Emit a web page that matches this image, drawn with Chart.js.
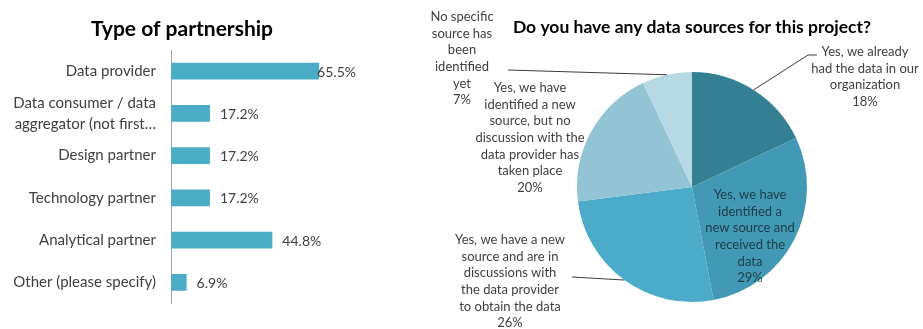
<!DOCTYPE html>
<html>
<head>
<meta charset="utf-8">
<script src="https://cdn.jsdelivr.net/npm/chart.js@4/dist/chart.umd.min.js"></script>
<style>
  html, body { margin: 0; padding: 0; background: #ffffff; }
  #wrap { position: relative; width: 923px; height: 329px; overflow: hidden; }
  #partnerCanvas { position: absolute; left: 0; top: 0; }
  #sourceCanvas { position: absolute; left: 400px; top: 0; }
</style>
</head>
<body>
<div id="wrap">
  <canvas id="partnerCanvas" width="365" height="329"></canvas>
  <canvas id="sourceCanvas" width="523" height="329"></canvas>
</div>
<script>
// ---- data ----
const partnerTypes = [
  'Data provider',
  ['Data consumer / data', 'aggregator (not first…'],
  'Design partner',
  'Technology partner',
  'Analytical partner',
  'Other (please specify)'
];
const partnerShares = [65.5, 17.2, 17.2, 17.2, 44.8, 6.9];

const sourceAnswers = [
  ['Yes, we already', 'had the data in our', 'organization'],
  ['Yes, we have', 'identified a', 'new source and', 'received the', 'data'],
  ['Yes, we have a new', 'source and are in', 'discussions with', 'the data provider', 'to obtain the data'],
  ['Yes, we have', 'identified a new', 'source, but no', 'discussion with the', 'data provider has', 'taken place'],
  ['No specific', 'source has', 'been', 'identified', 'yet']
];
const sourceShares = [18, 29, 26, 20, 7];

const FONT = 'Lato, "Open Sans", sans-serif';
const TEXT_GREY = '#404040';

// ---- shared: bold title text ----
const titlePlugin = {
  id: 'titleText',
  afterDraw(chart, args, opts) {
    const ctx = chart.ctx;
    ctx.save();
    ctx.font = 'bold ' + opts.size + 'px ' + FONT;
    ctx.fillStyle = '#000000';
    ctx.textAlign = 'center';
    ctx.textBaseline = 'middle';
    ctx.fillText(opts.text, opts.x, opts.y);
    ctx.restore();
  }
};

// ---- left: horizontal bar chart ----
const barValueLabels = {
  id: 'barValueLabels',
  afterDatasetsDraw(chart) {
    const ctx = chart.ctx;
    const meta = chart.getDatasetMeta(0);
    const area = chart.chartArea;
    ctx.save();
    ctx.font = '14px ' + FONT;
    ctx.fillStyle = TEXT_GREY;
    ctx.textBaseline = 'middle';
    ctx.textAlign = 'left';
    meta.data.forEach((bar, i) => {
      const txt = partnerShares[i].toFixed(1) + '%';
      const w = ctx.measureText(txt).width;
      let x = bar.x + 10;
      // keep the label inside the plot area
      if (x + w > area.right + 4) x = area.right + 4 - w;
      ctx.fillText(txt, x, bar.y + 1);
    });
    ctx.restore();
  }
};

new Chart(document.getElementById('partnerCanvas'), {
  type: 'bar',
  data: {
    labels: partnerTypes,
    datasets: [{
      data: partnerShares,
      backgroundColor: '#4bacc6',
      borderWidth: 0,
      categoryPercentage: 0.5,
      barPercentage: 0.79
    }]
  },
  options: {
    indexAxis: 'y',
    responsive: false,
    animation: false,
    layout: { padding: { top: 50, right: 13, bottom: 19, left: 0 } },
    plugins: {
      legend: { display: false },
      tooltip: { enabled: false },
      titleText: { text: 'Type of partnership', x: 182, y: 29, size: 21 }
    },
    scales: {
      x: { display: false, min: 0, max: 80 },
      y: {
        grid: { display: false, drawTicks: false },
        border: { display: true, color: '#a6a6a6', width: 1 },
        ticks: {
          autoSkip: false,
          color: TEXT_GREY,
          padding: 15,
          font: { family: FONT, size: 15, lineHeight: 1.4 }
        },
        afterFit(scale) { scale.width = 171; }
      }
    }
  },
  plugins: [titlePlugin, barValueLabels]
});

// ---- right: pie chart ----
// label placement, relative to the pie centre; leader points run from the label towards the slice
const pieLabelLayout = [
  { dx: 173, dy: -135, color: TEXT_GREY, leader: [[125, -132], [116, -132]] },
  { dx: 58,  dy: 8,    color: '#1d3c48', leader: null },
  { dx: -182, dy: 53,  color: TEXT_GREY, leader: [[-120, 90]] },
  { dx: -162, dy: -99, color: TEXT_GREY, leader: null },
  { dx: -230, dy: -170, color: TEXT_GREY, leader: [[-184, -117]] }
];

const pieLabels = {
  id: 'pieLabels',
  afterDatasetsDraw(chart) {
    const ctx = chart.ctx;
    const meta = chart.getDatasetMeta(0);
    const lh = 16.6;
    ctx.save();
    meta.data.forEach((arc, i) => {
      const lay = pieLabelLayout[i];
      const cx = arc.x, cy = arc.y;
      if (lay.leader) {
        const mid = (arc.startAngle + arc.endAngle) / 2;
        const ex = cx + Math.cos(mid) * arc.outerRadius;
        const ey = cy + Math.sin(mid) * arc.outerRadius;
        ctx.beginPath();
        ctx.strokeStyle = '#3a3a3a';
        ctx.lineWidth = 1;
        ctx.moveTo(cx + lay.leader[0][0], cy + lay.leader[0][1]);
        for (let k = 1; k < lay.leader.length; k++) ctx.lineTo(cx + lay.leader[k][0], cy + lay.leader[k][1]);
        ctx.lineTo(ex, ey);
        ctx.stroke();
      }
      const lines = sourceAnswers[i].concat([sourceShares[i] + '%']);
      ctx.font = '13px ' + FONT;
      ctx.fillStyle = lay.color;
      ctx.textAlign = 'center';
      ctx.textBaseline = 'middle';
      lines.forEach((ln, k) => ctx.fillText(ln, cx + lay.dx, cy + lay.dy + k * lh));
    });
    ctx.restore();
  }
};

new Chart(document.getElementById('sourceCanvas'), {
  type: 'pie',
  data: {
    labels: sourceAnswers.map(a => a.join(' ')),
    datasets: [{
      data: sourceShares,
      backgroundColor: ['#357f93', '#4299b5', '#4babc8', '#92c4d5', '#b7d9e3'],
      borderWidth: 0
    }]
  },
  options: {
    responsive: false,
    animation: false,
    layout: { padding: { top: 72, right: 116, bottom: 27, left: 177 } },
    plugins: {
      legend: { display: false },
      tooltip: { enabled: false },
      titleText: { text: 'Do you have any data sources for this project?', x: 292, y: 27, size: 17.5 }
    }
  },
  plugins: [titlePlugin, pieLabels]
});
</script>
</body>
</html>
